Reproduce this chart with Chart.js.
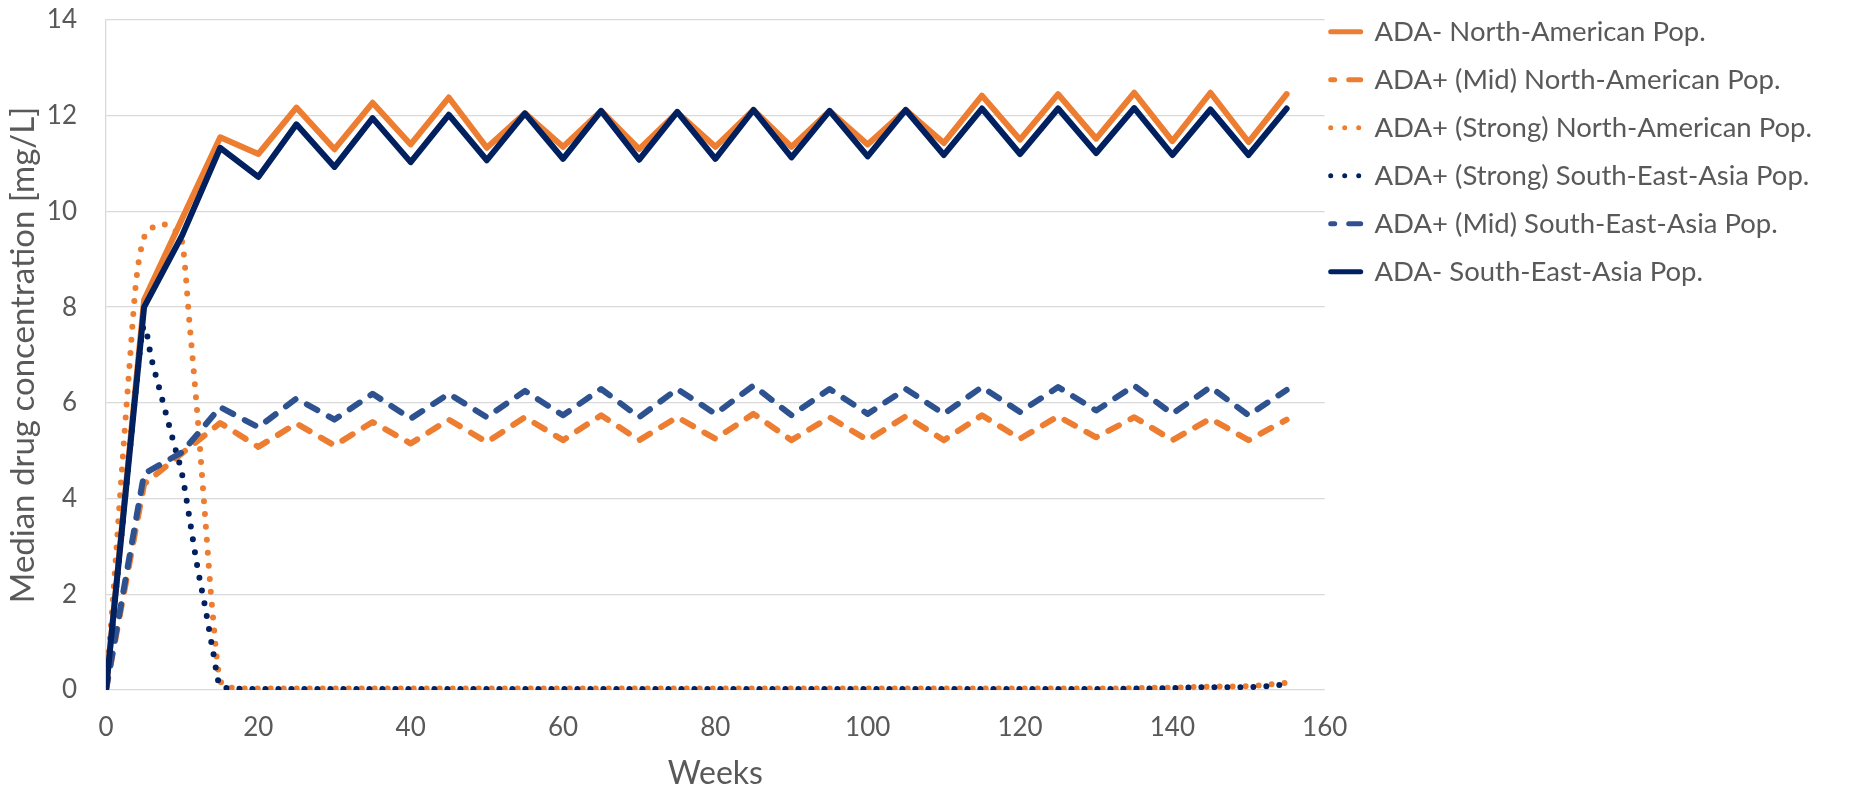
<!DOCTYPE html>
<html>
<head>
<meta charset="utf-8">
<script src="https://cdn.jsdelivr.net/npm/chart.js@4/dist/chart.umd.min.js"></script>
<style>
  html, body { margin: 0; padding: 0; background: #ffffff; }
  #c { display: block; }
</style>
</head>
<body>
<canvas id="c" width="1855" height="793"></canvas>
<script>
// ---- data ---------------------------------------------------------------
const seriesNames = [
  'ADA- North-American Pop.',
  'ADA+ (Mid) North-American Pop.',
  'ADA+ (Strong) North-American Pop.',
  'ADA+ (Strong) South-East-Asia Pop.',
  'ADA+ (Mid) South-East-Asia Pop.',
  'ADA- South-East-Asia Pop.'
];

// dosing-interval samples (weeks)
const weeks = [0, 5, 10, 15, 20, 25, 30, 35, 40, 45, 50, 55, 60, 65, 70, 75,
  80, 85, 90, 95, 100, 105, 110, 115, 120, 125, 130, 135, 140, 145, 150, 155];

// weekly samples during the first weeks, then every 5 weeks
const denseWeeks = [0, 1, 2, 3, 4, 5, 6, 7, 8, 9, 10, 11, 12, 13, 14, 15, 16, 17,
  20, 25, 30, 35, 40, 45, 50, 55, 60, 65, 70, 75, 80, 85, 90, 95, 100, 105,
  110, 115, 120, 125, 130, 135, 140, 145, 150, 155];

const adaNegNorthAmerica = [0, 8.15, 9.85, 11.55, 11.2, 12.17, 11.3, 12.27, 11.4, 12.38,
  11.33, 12.05, 11.35, 12.1, 11.3, 12.07, 11.35, 12.12, 11.35, 12.1, 11.4, 12.12,
  11.43, 12.42, 11.5, 12.45, 11.52, 12.48, 11.47, 12.48, 11.45, 12.45];

const adaMidNorthAmerica = [0, 4.3, 4.95, 5.58, 5.08, 5.57, 5.11, 5.6, 5.15, 5.65,
  5.18, 5.7, 5.22, 5.74, 5.22, 5.7, 5.25, 5.77, 5.22, 5.7, 5.22, 5.72,
  5.22, 5.74, 5.25, 5.72, 5.28, 5.7, 5.22, 5.67, 5.22, 5.65];

const adaStrongNorthAmerica = [0, 2.1, 4.4, 6.6, 8.6, 9.45, 9.65, 9.73, 9.72, 9.6,
  9.35, 7.6, 5.75, 3.65, 1.6, 0.2, 0.06, 0.04,
  0.03, 0.03, 0.03, 0.03, 0.03, 0.03, 0.03, 0.03, 0.03, 0.03, 0.03, 0.03,
  0.03, 0.03, 0.03, 0.03, 0.03, 0.03, 0.03, 0.03, 0.03, 0.03, 0.03,
  0.04, 0.05, 0.07, 0.08, 0.15];

const adaStrongSouthEastAsia = [0, 1.6, 3.2, 4.8, 6.4, 7.6, 6.9, 6.3, 5.7, 5.1,
  4.5, 3.55, 2.57, 1.75, 0.85, 0.08, 0.04, 0.03,
  0.02, 0.02, 0.02, 0.02, 0.02, 0.02, 0.02, 0.02, 0.02, 0.02, 0.02, 0.02,
  0.02, 0.02, 0.02, 0.02, 0.02, 0.02, 0.02, 0.02, 0.02, 0.02, 0.02,
  0.03, 0.04, 0.06, 0.06, 0.12];

const adaMidSouthEastAsia = [0, 4.52, 4.97, 5.91, 5.49, 6.09, 5.65, 6.19, 5.67, 6.19,
  5.7, 6.25, 5.74, 6.29, 5.7, 6.29, 5.77, 6.36, 5.74, 6.29, 5.77, 6.29,
  5.77, 6.33, 5.81, 6.33, 5.84, 6.36, 5.77, 6.33, 5.74, 6.27];

const adaNegSouthEastAsia = [0, 8.0, 9.5, 11.33, 10.72, 11.82, 10.93, 11.95, 11.03, 12.02,
  11.07, 12.05, 11.1, 12.1, 11.08, 12.08, 11.1, 12.12, 11.13, 12.1, 11.15, 12.12,
  11.18, 12.15, 11.2, 12.15, 11.22, 12.16, 11.18, 12.13, 11.18, 12.15];

const xTicks = [0, 20, 40, 60, 80, 100, 120, 140, 160];
const yTicks = [0, 2, 4, 6, 8, 10, 12, 14];

// ---- styling ------------------------------------------------------------
const ORANGE = '#ED7D31';
const NAVY = '#002060';
const MID_BLUE = '#2E5190';
const TEXT = '#595959';
const GRID = '#D9D9D9';
const FONT = "Lato, 'Open Sans', sans-serif";

const W = 1855, H = 793;
const PLOT_LEFT = 106, PLOT_TOP = 20, PLOT_RIGHT = 1324, PLOT_BOTTOM = 690;
const LEGEND_SIZE = 27.5, LEGEND_BOX = 30, LEGEND_PAD = 6, LEGEND_ROW = 48, LEGEND_TOP = 12;

const DOT = [0, 13];
const DASH = [12, 13];

const seriesX = [weeks, weeks, denseWeeks, denseWeeks, weeks, weeks];
const seriesY = [adaNegNorthAmerica, adaMidNorthAmerica, adaStrongNorthAmerica,
  adaStrongSouthEastAsia, adaMidSouthEastAsia, adaNegSouthEastAsia];
const styles = [
  { color: ORANGE,   dash: [],   legendDash: [] },
  { color: ORANGE,   dash: DASH, legendDash: [4, 14, 20] },
  { color: ORANGE,   dash: DOT,  legendDash: [0, 14] },
  { color: NAVY,     dash: DOT,  legendDash: [0, 14] },
  { color: MID_BLUE, dash: DASH, legendDash: [4, 14, 20] },
  { color: NAVY,     dash: [],   legendDash: [] }
];

// legend width, so the plot ends where the legend starts
const mctx = document.createElement('canvas').getContext('2d');
mctx.font = `${LEGEND_SIZE}px ${FONT}`;
const longestLabel = Math.max(...seriesNames.map(s => mctx.measureText(s).width));
const legendWidth = Math.ceil(LEGEND_PAD + LEGEND_BOX + LEGEND_SIZE / 2 + longestLabel + 10);
const padRight = Math.max(0, W - PLOT_RIGHT - legendWidth);

const datasets = seriesNames.map((name, i) => ({
  label: name,
  data: seriesX[i].map((x, k) => ({ x, y: seriesY[i][k] })),
  borderColor: styles[i].color,
  backgroundColor: styles[i].color,
  borderWidth: 6,
  borderDash: styles[i].dash,
  borderCapStyle: 'round',
  borderJoinStyle: 'round',
  cubicInterpolationMode: styles[i].dash === DOT ? 'monotone' : 'default',
  tension: 0,
  pointRadius: 0,
  pointHoverRadius: 0,
  fill: false,
  order: seriesNames.length - i
}));

new Chart(document.getElementById('c'), {
  type: 'line',
  data: { datasets },
  options: {
    responsive: false,
    devicePixelRatio: 1,
    animation: false,
    events: [],
    layout: { padding: { top: LEGEND_TOP, left: 0, bottom: 0, right: padRight } },
    plugins: {
      tooltip: { enabled: false },
      legend: {
        position: 'right',
        align: 'start',
        maxWidth: legendWidth,
        labels: {
          usePointStyle: true,
          pointStyleWidth: LEGEND_BOX,
          padding: LEGEND_PAD,
          color: TEXT,
          font: { family: FONT, size: LEGEND_SIZE, lineHeight: (LEGEND_ROW - LEGEND_PAD) / LEGEND_SIZE },
          generateLabels: chart => chart.data.datasets.map((ds, i) => ({
            text: [ds.label],
            fillStyle: ds.borderColor,
            strokeStyle: ds.borderColor,
            fontColor: TEXT,
            lineWidth: 5,
            lineDash: styles[i].legendDash,
            lineCap: 'round',
            pointStyle: 'line',
            hidden: false,
            datasetIndex: i
          }))
        }
      }
    },
    scales: {
      x: {
        type: 'linear',
        min: 0,
        max: 160,
        afterBuildTicks: s => { s.ticks = xTicks.map(v => ({ value: v })); },
        ticks: {
          color: TEXT,
          font: { family: FONT, size: 26 },
          padding: 22,
          maxRotation: 0,
          autoSkip: false
        },
        grid: { display: false, drawTicks: false },
        border: { display: false },
        title: {
          display: true,
          text: 'Weeks',
          color: TEXT,
          font: { family: FONT, size: 32 },
          padding: { top: 0, bottom: 0 }
        },
        afterFit: s => { s.height = H - PLOT_BOTTOM; }
      },
      y: {
        type: 'linear',
        min: 0,
        max: 14,
        afterBuildTicks: s => { s.ticks = yTicks.map(v => ({ value: v })); },
        ticks: {
          color: TEXT,
          font: { family: FONT, size: 26 },
          padding: 29
        },
        grid: { color: GRID, lineWidth: 1.3, drawTicks: false },
        border: { display: true, color: GRID, width: 1.3 },
        title: {
          display: true,
          text: 'Median drug concentration [mg/L]',
          color: TEXT,
          font: { family: FONT, size: 33 },
          padding: { top: 4, bottom: 0 }
        },
        afterFit: s => { s.width = PLOT_LEFT; s.paddingTop = PLOT_TOP; }
      }
    }
  }
});
</script>
</body>
</html>
